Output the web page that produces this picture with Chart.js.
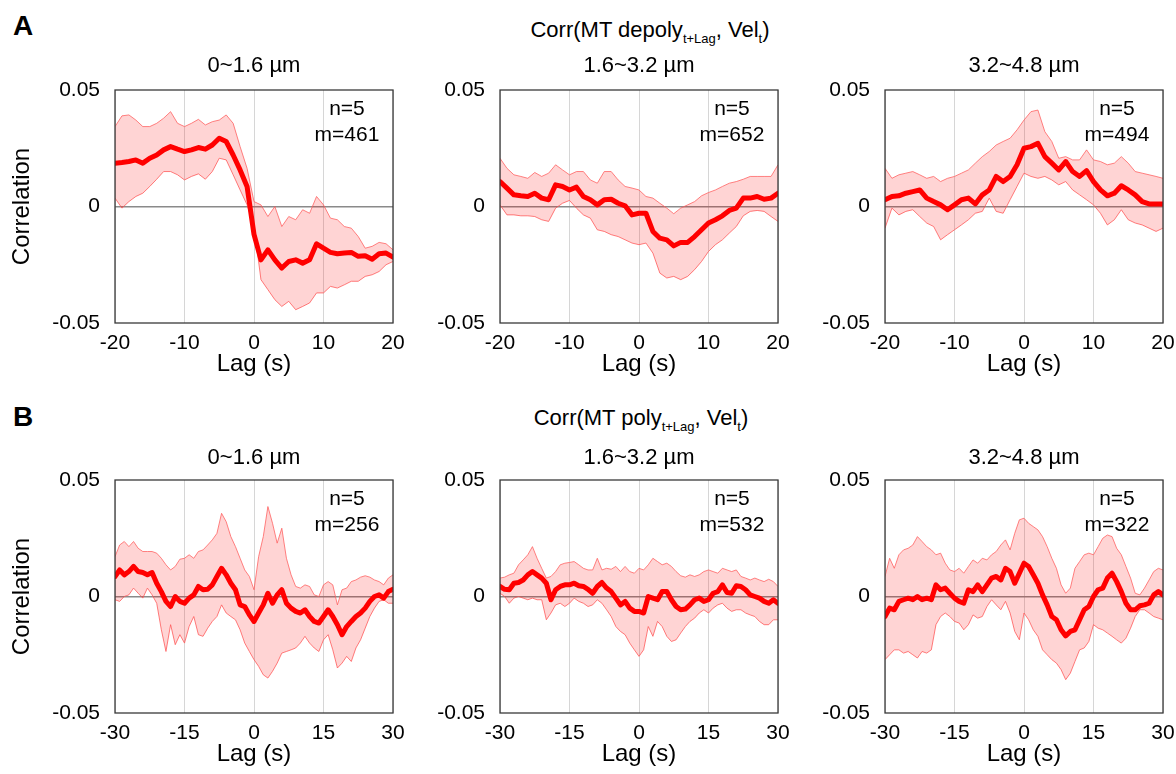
<!DOCTYPE html>
<html>
<head>
<meta charset="utf-8">
<script src="https://cdn.jsdelivr.net/npm/chart.js@4/dist/chart.umd.min.js"></script>
<style>
  body { margin: 0; background: #fff; }
  #fig { position: relative; width: 1176px; height: 774px; font-family: "Liberation Sans", Arial, sans-serif; color: #000; }
  #fig canvas { position: absolute; }
  .t { position: absolute; transform: translate(-50%, -50%); white-space: nowrap; font-size: 22px; line-height: 1; }
  .t sub { font-size: 13px; vertical-align: -6px; }
  .big { font-size: 28px; font-weight: bold; }
  .nm { font-size: 21px; text-align: center; line-height: 26px; }
</style>
</head>
<body>
<div id="fig">
  <div class="t big" style="left:23px;top:26px">A</div>
  <div class="t" style="left:650px;top:32px">Corr(MT depoly<sub>t+Lag</sub>, Vel<sub>t</sub>)</div>
  <div class="t big" style="left:23px;top:417px">B</div>
  <div class="t" style="left:641px;top:420px">Corr(MT poly<sub>t+Lag</sub>, Vel<sub>t</sub>)</div>
</div>
<script>
// lag axes (s)
const LAG_A = [-20,-19,-18,-17,-16,-15,-14,-13,-12,-11,-10,-9,-8,-7,-6,-5,-4,-3,-2,-1,
  0,1,2,3,4,5,6,7,8,9,10,11,12,13,14,15,16,17,18,19,20];
const LAG_B = [-30,-29,-28,-27,-26,-25,-24,-23,-22,-21,-20,-19,-18,-17,-16,-15,-14,-13,-12,-11,
  -10,-9,-8,-7,-6,-5,-4,-3,-2,-1,0,1,2,3,4,5,6,7,8,9,
  10,11,12,13,14,15,16,17,18,19,20,21,22,23,24,25,26,27,28,29,30];

const BINS = ['0~1.6 µm', '1.6~3.2 µm', '3.2~4.8 µm'];
const N_A = ['n=5', 'n=5', 'n=5'];
const M_A = ['m=461', 'm=652', 'm=494'];
const N_B = ['n=5', 'n=5', 'n=5'];
const M_B = ['m=256', 'm=532', 'm=322'];
const Y_TICKS = [-0.05, 0, 0.05];

// row A : MT depoly
const meanA1 = [0.0186,0.0189,0.0193,0.020,0.0186,0.0207,0.0221,0.0243,0.0257,0.0246,
  0.0236,0.0243,0.0253,0.0246,0.0264,0.0293,0.0279,0.0221,0.0157,0.0086,
  -0.012,-0.0229,-0.0186,-0.0229,-0.0264,-0.0236,-0.0229,-0.0243,-0.0229,-0.016,
  -0.0179,-0.0197,-0.0203,-0.020,-0.0197,-0.0214,-0.0211,-0.0226,-0.0203,-0.020,-0.0217];
const upA1 = [0.0343,0.0389,0.0393,0.0371,0.0343,0.0343,0.0357,0.0379,0.0407,0.0357,
  0.0343,0.0357,0.0374,0.035,0.0364,0.0371,0.0393,0.0357,0.0257,0.0164,
  0.0021,0.0007,-0.0043,0,-0.0086,-0.0043,-0.0057,-0.0014,-0.0029,0.0043,
  0.0007,-0.005,-0.0057,-0.0086,-0.0093,-0.0129,-0.0179,-0.0171,-0.0154,-0.016,-0.0186];
const loA1 = [0.0036,-0.0007,0.0021,0.0043,0.0057,0.0086,0.0117,0.015,0.015,0.0136,
  0.0114,0.0129,0.014,0.0117,0.015,0.0207,0.02,0.0136,0.0071,0.0007,
  -0.0086,-0.0314,-0.0357,-0.04,-0.0429,-0.0407,-0.0443,-0.0429,-0.0414,-0.0371,
  -0.0371,-0.0343,-0.035,-0.0336,-0.0321,-0.0321,-0.03,-0.0293,-0.0279,-0.025,-0.0236];

const meanA2 = [0.0107,0.0079,0.005,0.0046,0.0043,0.0057,0.0036,0.0029,0.0093,0.0086,
  0.0071,0.0083,0.0043,0.0029,0.0007,0.0029,0.0031,0.0014,0.0003,-0.0036,
  -0.0029,-0.0029,-0.0107,-0.0136,-0.0143,-0.0169,-0.0154,-0.0154,-0.0129,-0.01,
  -0.0071,-0.0057,-0.004,-0.0017,-0.0007,0.0036,0.0036,0.0043,0.0031,0.0036,0.0057];
const upA2 = [0.0207,0.0164,0.0136,0.0129,0.0121,0.0146,0.0129,0.0143,0.0179,0.0157,
  0.0136,0.015,0.015,0.0114,0.01,0.015,0.015,0.0114,0.0086,0.0079,
  0.0071,0.0043,0.0036,0.0014,-0.0007,-0.0031,-0.0007,0.0007,0.0021,0.0046,
  0.006,0.0071,0.0086,0.01,0.0107,0.0117,0.0129,0.0129,0.0129,0.0129,0.0179];
const loA2 = [0.0007,-0.0036,-0.0036,-0.004,-0.004,-0.0043,-0.0057,-0.0064,-0.0007,0.0014,
  0.0026,-0.0007,-0.0036,-0.005,-0.01,-0.0107,-0.0121,-0.0129,-0.0143,-0.0157,
  -0.0164,-0.0157,-0.02,-0.0286,-0.0307,-0.03,-0.0314,-0.03,-0.0271,-0.0236,
  -0.0193,-0.0164,-0.0143,-0.0114,-0.0086,-0.004,-0.0021,-0.0017,-0.0021,-0.0043,-0.0064];

const meanA3 = [0.0029,0.0043,0.0046,0.0057,0.0064,0.0071,0.0036,0.0021,0.0007,-0.0014,
  0.0007,0.0029,0.0036,0.0011,0.005,0.0071,0.0129,0.0107,0.0129,0.0179,
  0.025,0.0257,0.0271,0.0214,0.0186,0.0157,0.0193,0.015,0.0129,0.0154,
  0.0107,0.0071,0.0046,0.0057,0.0089,0.0071,0.005,0.0021,0.0011,0.0011,0.0011];
const upA3 = [0.0164,0.0121,0.0136,0.0143,0.015,0.0136,0.0121,0.0129,0.0107,0.0121,
  0.0129,0.0143,0.0157,0.0186,0.0214,0.0236,0.0264,0.0279,0.0293,0.0329,
  0.0371,0.0407,0.0414,0.0321,0.0279,0.0207,0.0214,0.02,0.02,0.0243,
  0.02,0.0193,0.0179,0.0186,0.0214,0.0186,0.015,0.0143,0.0136,0.0129,0.0121];
const loA3 = [-0.0093,-0.0007,-0.0036,-0.0021,-0.0014,-0.0043,-0.0071,-0.0086,-0.0143,-0.0121,
  -0.01,-0.0079,-0.0057,-0.0029,-0.0021,0.0036,-0.0021,-0.0029,0.0029,0.0086,
  0.0143,0.0129,0.0121,0.0129,0.0114,0.0093,0.0107,0.0071,0.005,0.0029,
  0.0007,-0.0029,-0.0079,-0.0057,-0.0014,-0.0057,-0.0071,-0.0079,-0.0093,-0.0107,-0.0093];

// row B : MT poly
const meanB1 = [0.0086,0.0114,0.0093,0.0107,0.0129,0.0107,0.0103,0.0093,0.0103,0.0057,
  0.0021,-0.0021,-0.0043,0,-0.0021,-0.0029,-0.0007,0.0007,0.0043,0.0029,
  0.0031,0.005,0.0086,0.0121,0.0093,0.0057,0.0029,-0.0036,-0.0043,-0.0079,
  -0.0107,-0.0071,-0.0036,0.0014,-0.0029,0.0007,0.0029,-0.0029,-0.005,-0.0064,
  -0.0071,-0.0057,-0.0086,-0.0107,-0.0114,-0.0086,-0.0057,-0.0086,-0.0121,-0.0164,
  -0.0129,-0.0107,-0.0086,-0.0071,-0.005,-0.0021,0,0.0007,-0.0007,0.0021,0.0031];
const upB1 = [0.0171,0.0221,0.0236,0.0214,0.0236,0.0207,0.0193,0.0193,0.0193,0.0186,
  0.0164,0.0136,0.0114,0.0129,0.016,0.0164,0.0179,0.0164,0.0193,0.02,
  0.0221,0.0243,0.0271,0.0357,0.0321,0.0257,0.0214,0.0164,0.0114,0.0086,
  0.0029,0.0171,0.0257,0.0386,0.0314,0.0229,0.0293,0.0164,0.0093,0.0043,
  0.0036,0.005,0.0043,0.0007,0,0.005,0.0064,0.005,-0.0036,0.0029,
  0.0036,0.0064,0.0071,0.0083,0.0089,0.0083,0.0071,0.0064,0.005,0.0079,0.0093];
const loB1 = [-0.0014,-0.0021,0,0.0007,0.0036,0.0014,-0.0007,0.0036,0.0007,-0.0029,
  -0.0143,-0.0236,-0.0121,-0.0207,-0.0164,-0.02,-0.0129,-0.0086,-0.0164,-0.0171,
  -0.0136,-0.0107,-0.0086,-0.0036,-0.0071,-0.0086,-0.01,-0.0143,-0.02,-0.0236,
  -0.0271,-0.03,-0.0336,-0.035,-0.0321,-0.0286,-0.0243,-0.0236,-0.0229,-0.0221,
  -0.02,-0.0171,-0.02,-0.0221,-0.0236,-0.0186,-0.0164,-0.0229,-0.0307,-0.0286,
  -0.0257,-0.0279,-0.0221,-0.0186,-0.0136,-0.0086,-0.005,-0.0021,-0.0014,-0.0029,-0.0029];

const meanB2 = [0.0043,0.0031,0.0029,0.0057,0.006,0.0071,0.0093,0.0107,0.0093,0.0079,
  0.0057,-0.0014,0.0029,0.0043,0.005,0.005,0.0057,0.0046,0.0043,0.0031,
  0.0014,0.0043,0.006,0.0036,0.0021,-0.0007,-0.0036,-0.0021,-0.005,-0.0064,
  -0.0064,-0.0071,0,-0.0007,-0.0014,0.0021,0.0021,-0.0014,-0.0043,-0.0057,
  -0.0054,-0.0036,-0.0014,-0.0007,-0.0021,-0.0014,0.0014,0.0021,0.005,0.0017,
  0.0014,0.0046,0.0043,0.0029,0.0007,0,-0.0007,-0.0021,-0.0029,-0.0014,-0.0029];
const upB2 = [0.0079,0.0083,0.0093,0.01,0.0136,0.0157,0.0179,0.0214,0.0164,0.0121,
  0.0079,0.0086,0.0107,0.0136,0.0143,0.0146,0.015,0.0136,0.0121,0.0114,
  0.0114,0.0164,0.0114,0.0121,0.0117,0.0129,0.0107,0.0129,0.0107,0.01,
  0.0121,0.0114,0.0136,0.0164,0.015,0.0136,0.0143,0.0129,0.0107,0.0089,
  0.0083,0.0093,0.0086,0.0093,0.0107,0.0114,0.0107,0.01,0.0121,0.0114,
  0.0107,0.0114,0.0086,0.0079,0.0071,0.0079,0.0071,0.0064,0.0074,0.0064,0.0043];
const loB2 = [0.0014,0,-0.0029,-0.0007,0,-0.0007,-0.0014,-0.0007,-0.0014,-0.0014,
  -0.01,-0.0071,-0.0036,-0.0029,-0.0043,-0.0029,-0.0007,-0.0021,-0.0029,-0.0043,
  -0.0036,-0.0014,-0.0029,-0.0057,-0.0086,-0.0129,-0.015,-0.0164,-0.02,-0.0229,
  -0.0257,-0.0229,-0.0129,-0.0171,-0.0107,-0.0129,-0.0171,-0.0193,-0.0186,-0.0157,
  -0.0129,-0.0107,-0.0093,-0.0071,-0.0057,-0.0071,-0.005,-0.0036,-0.0029,-0.005,
  -0.0064,-0.0057,-0.0057,-0.0071,-0.0079,-0.0086,-0.0107,-0.0121,-0.0121,-0.01,-0.01];

const meanB3 = [-0.0086,-0.005,-0.0057,-0.0021,-0.0014,-0.0007,-0.0014,0,-0.0014,-0.0007,
  -0.0014,0.005,0.0029,0.0036,0.0014,-0.0007,-0.0021,-0.0029,0.0029,0.0021,
  0.005,0.0021,0.005,0.0079,0.0086,0.0071,0.0121,0.0107,0.0057,0.01,
  0.0143,0.0129,0.0093,0.0057,0.0007,-0.0036,-0.0086,-0.01,-0.0143,-0.0169,
  -0.015,-0.0143,-0.01,-0.0057,-0.0043,0,0.0029,0.0036,0.0079,0.01,
  0.0064,0.0021,-0.0029,-0.0057,-0.0057,-0.004,-0.0036,-0.0029,0.0007,0.0021,0.0007];
const upB3 = [0.0086,0.0164,0.0121,0.0179,0.02,0.0207,0.0221,0.0257,0.0236,0.0214,
  0.02,0.0179,0.0186,0.0143,0.0114,0.0107,0.0121,0.01,0.0129,0.0157,
  0.0143,0.0164,0.0157,0.0179,0.0193,0.0221,0.0243,0.02,0.0271,0.0329,
  0.0336,0.0314,0.03,0.0286,0.0257,0.0214,0.0164,0.0121,0.005,0.0014,
  0.0036,0.0121,0.015,0.0179,0.0186,0.0179,0.0214,0.025,0.0264,0.0257,
  0.0207,0.0179,0.0129,0.0079,0.0014,0.0007,0.0036,0.0071,0.0107,0.0121,0.0114];
const loB3 = [-0.0271,-0.025,-0.0229,-0.0229,-0.0243,-0.0236,-0.025,-0.0264,-0.0236,-0.0243,
  -0.0229,-0.0121,-0.0086,-0.0071,-0.0086,-0.0107,-0.0114,-0.0143,-0.0121,-0.0079,
  -0.0093,-0.0086,-0.0043,-0.0014,-0.0036,-0.0057,-0.0021,-0.0071,-0.015,-0.0186,
  -0.0071,-0.01,-0.0143,-0.0171,-0.0229,-0.025,-0.0271,-0.0286,-0.0314,-0.0357,
  -0.0329,-0.0279,-0.0229,-0.0221,-0.0193,-0.0121,-0.0136,-0.0143,-0.0157,-0.0171,
  -0.0186,-0.02,-0.0179,-0.0136,-0.0086,-0.0057,-0.0057,-0.0071,-0.0086,-0.0093,-0.01];

// layout of the 6 plot boxes
const COL_LEFT = [115, 500, 885];
const ROW_TOP = [90, 480];
const PLOT_W = 278, PLOT_H = 233;
const AX_W = 110, AX_H = 56, PAD_T = 32, PAD_R = 26;

Chart.defaults.font.family = '"Liberation Sans", Arial, sans-serif';
Chart.defaults.color = '#000';

const boxPlugin = {
  id: 'box',
  afterDatasetsDraw(chart) {
    const a = chart.chartArea, ctx = chart.ctx;
    ctx.save();
    ctx.strokeStyle = '#3a3a3a';
    ctx.lineWidth = 1.3;
    ctx.strokeRect(a.left, a.top, a.right - a.left, a.bottom - a.top);
    ctx.restore();
  }
};

const fig = document.getElementById('fig');

function addText(cls, html, x, y) {
  const d = document.createElement('div');
  d.className = 't ' + cls;
  d.innerHTML = html;
  d.style.left = x + 'px';
  d.style.top = y + 'px';
  fig.appendChild(d);
}

function pts(lags, ys) {
  return lags.map((x, i) => ({ x: x, y: ys[i] }));
}

function makePanel(row, col, lags, mean, up, lo, step, nTxt, mTxt) {
  const L = COL_LEFT[col], T = ROW_TOP[row];
  const cv = document.createElement('canvas');
  const w = AX_W + PLOT_W + PAD_R, h = PAD_T + PLOT_H + AX_H;
  cv.width = w; cv.height = h;
  cv.style.left = (L - AX_W) + 'px';
  cv.style.top = (T - PAD_T) + 'px';
  cv.style.width = w + 'px'; cv.style.height = h + 'px';
  fig.appendChild(cv);

  addText('', BINS[col], L + PLOT_W / 2, row === 0 ? 65 : 457);
  addText('nm', nTxt + '<br>' + mTxt, L + PLOT_W - 46, T + 31);

  new Chart(cv, {
    type: 'line',
    data: {
      datasets: [
        { data: pts(lags, mean), borderColor: '#ff0000', borderWidth: 5, borderJoinStyle: 'round', borderCapStyle: 'round', fill: false },
        { data: pts(lags, up), borderColor: 'rgba(255,90,90,0.75)', borderWidth: 1, backgroundColor: 'rgba(255,0,0,0.17)', fill: '+1' },
        { data: pts(lags, lo), borderColor: 'rgba(255,90,90,0.75)', borderWidth: 1, fill: false }
      ]
    },
    options: {
      responsive: false,
      animation: false,
      layout: { padding: { top: PAD_T, right: PAD_R, left: 0, bottom: 0 } },
      elements: { point: { radius: 0 }, line: { tension: 0 } },
      plugins: { legend: { display: false }, tooltip: { enabled: false } },
      scales: {
        x: {
          type: 'linear',
          min: lags[0], max: lags[lags.length - 1],
          afterFit: s => { s.height = AX_H; },
          ticks: { stepSize: step, maxRotation: 0, padding: 8, font: { size: 21 } },
          grid: { color: '#d6d6d6', lineWidth: 1, drawTicks: false },
          border: { display: false },
          title: { display: true, text: 'Lag (s)', font: { size: 24 }, padding: { top: 0, bottom: 0 } }
        },
        y: {
          min: Y_TICKS[0], max: Y_TICKS[2],
          afterFit: s => { s.width = AX_W; },
          afterBuildTicks: s => { s.ticks = Y_TICKS.map(v => ({ value: v })); },
          ticks: { padding: 15, font: { size: 21 }, callback: v => (v === 0 ? '0' : v.toFixed(2)) },
          grid: { color: c => (c.tick && c.tick.value === 0 ? '#8a8a8a' : 'rgba(0,0,0,0)'), lineWidth: 1.5, drawTicks: false },
          border: { display: false },
          title: { display: col === 0, text: 'Correlation', font: { size: 24 }, padding: { top: 3, bottom: 0 } }
        }
      }
    },
    plugins: [boxPlugin]
  });
}

makePanel(0, 0, LAG_A, meanA1, upA1, loA1, 10, N_A[0], M_A[0]);
makePanel(0, 1, LAG_A, meanA2, upA2, loA2, 10, N_A[1], M_A[1]);
makePanel(0, 2, LAG_A, meanA3, upA3, loA3, 10, N_A[2], M_A[2]);
makePanel(1, 0, LAG_B, meanB1, upB1, loB1, 15, N_B[0], M_B[0]);
makePanel(1, 1, LAG_B, meanB2, upB2, loB2, 15, N_B[1], M_B[1]);
makePanel(1, 2, LAG_B, meanB3, upB3, loB3, 15, N_B[2], M_B[2]);
</script>
</body>
</html>
